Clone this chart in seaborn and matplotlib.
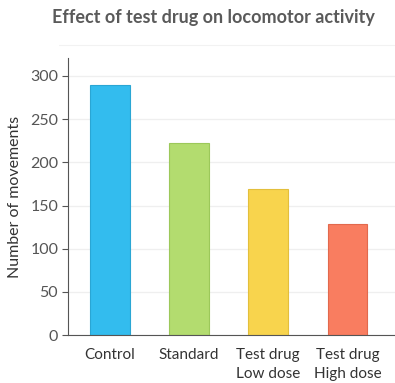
import matplotlib
matplotlib.use("Agg")
import matplotlib.pyplot as plt
import seaborn as sns
import pandas as pd

groups = ["Control", "Standard", "Test drug\nLow dose", "Test drug\nHigh dose"]
movements = [290, 222, 169, 129]
colors = ["#33bcee", "#b3dc6f", "#f8d44d", "#f97d60"]
edges = ["#2aa6d4", "#9cc85a", "#e3bf3c", "#e2694d"]
y_ticks = [0, 50, 100, 150, 200, 250, 300]

sns.set_theme(style="white")
plt.rcParams["font.family"] = ["Lato", "DejaVu Sans"]

df = pd.DataFrame({"group": groups, "movements": movements})

fig = plt.figure(figsize=(3.95, 3.83), dpi=100)
ax = fig.add_axes([0.172, 0.125, 0.828, 0.724])

sns.barplot(data=df, x="group", y="movements", hue="group", palette=colors,
            width=0.5, legend=False, ax=ax, saturation=1)
for patch, ec in zip(ax.patches, edges):
    patch.set_edgecolor(ec)
    patch.set_linewidth(0.8)

ax.set_ylim(0, 321)
ax.set_xlim(-0.53, 3.6)
ax.set_yticks(y_ticks)
ax.yaxis.grid(True, color="#efefef", linewidth=0.9)
ax.set_axisbelow(True)
ax.tick_params(axis="y", left=True, length=4, width=0.8, color="#555555",
               labelsize=11.5, labelcolor="#555555", pad=3)
ax.tick_params(axis="x", bottom=False, labelsize=11, labelcolor="#333333", pad=3)
for lbl in ax.get_xticklabels():
    lbl.set_linespacing(1.45)
for side in ["top", "right"]:
    ax.spines[side].set_visible(False)
for side in ["left", "bottom"]:
    ax.spines[side].set_color("#555555")
    ax.spines[side].set_linewidth(0.8)
ax.set_xlabel("")
ax.set_ylabel("Number of movements", fontsize=11.5, color="#333333", labelpad=6)

fig.text(0.54, 0.955, "Effect of test drug on locomotor activity",
         ha="center", va="center", fontsize=13, fontweight="bold", color="#5a5a5a")
fig.add_artist(plt.Line2D([0.15, 1.0], [0.882, 0.882], color="#f2f2f2", linewidth=0.8))

fig.savefig("out.png", dpi=100)
